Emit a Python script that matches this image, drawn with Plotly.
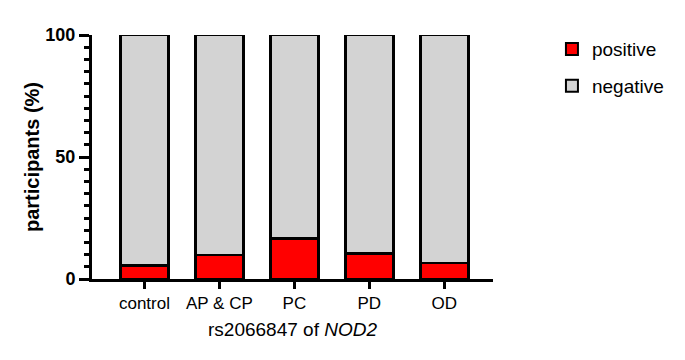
import plotly.graph_objects as go

categories = ["control", "AP & CP", "PC", "PD", "OD"]
positive = [5.5, 9.8, 16.5, 10.5, 6.5]
negative = [100 - v for v in positive]

FONT = "Arial, Liberation Sans, sans-serif"

fig = go.Figure()
fig.add_trace(go.Bar(x=categories, y=positive, name="positive", legendgroup="p",
                     marker=dict(color="#ff0000", line=dict(color="black", width=2.5)),
                     width=0.64))
fig.add_trace(go.Bar(x=categories, y=negative, name="negative", legendgroup="n",
                     marker=dict(color="#d3d3d3", line=dict(color="black", width=2.5)),
                     width=0.64))

# page body has an 8px margin, so the figure is sized/offset to compensate
fig.update_layout(
    barmode="stack",
    width=677, height=352,
    margin=dict(l=84, r=192, t=27, b=81),
    plot_bgcolor="white", paper_bgcolor="white",
    font=dict(family=FONT, color="black"),
    showlegend=True,
    legend=dict(x=1.147, y=1.02, xanchor="left", yanchor="top",
                font=dict(size=19, family=FONT), traceorder="grouped",
                itemsizing="constant", tracegroupgap=9),
    xaxis=dict(
        range=[-0.7, 4.65],
        showline=True, linecolor="black", linewidth=3,
        ticks="outside", ticklen=7, tickwidth=3, tickcolor="black",
        tickfont=dict(size=17, family=FONT),
        title=dict(text="rs2066847 of <i>NOD2</i>", font=dict(size=19, family=FONT), standoff=11),
        showgrid=False, zeroline=False,
    ),
    yaxis=dict(
        range=[0, 100],
        showline=True, linecolor="black", linewidth=3,
        tickvals=[0, 50, 100], ticktext=["<b>0</b>", "<b>50</b>", "<b>100</b>"],
        ticks="outside", ticklen=10, tickwidth=3, tickcolor="black",
        tickfont=dict(size=18, family=FONT),
        minor=dict(dtick=5, ticks="outside", ticklen=5, tickwidth=3, tickcolor="black", showgrid=False),
        title=dict(text="<b>participants (%)</b>", font=dict(size=20, family=FONT), standoff=1),
        showgrid=False, zeroline=False,
    ),
)

fig.write_html("out.html")
